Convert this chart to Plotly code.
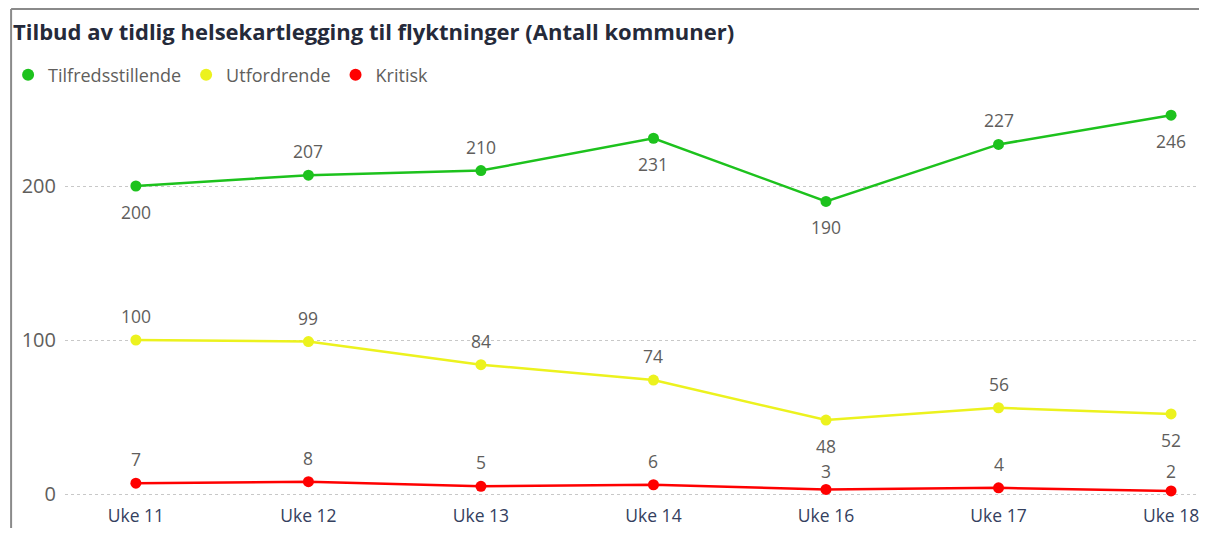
import plotly.graph_objects as go

categories = ["Uke 11", "Uke 12", "Uke 13", "Uke 14", "Uke 16", "Uke 17", "Uke 18"]
tilfreds = [200, 207, 210, 231, 190, 227, 246]
utford = [100, 99, 84, 74, 48, 56, 52]
kritisk = [7, 8, 5, 6, 3, 4, 2]

# label offset for each point, in px (+ above, - below)
off_tilfreds = [-26, 24, 24, -26, -26, 24, -26]
off_utford = [24, 24, 24, 24, -26, 24, -26]
off_kritisk = [24, 24, 24, 24, 18, 24, 20]

FONT = "Open Sans, Liberation Sans, sans-serif"
xi = list(range(len(categories)))
label_font = dict(family=FONT, size=17.5, color="#605E5C")

fig = go.Figure()
for name, vals, col, offs in [
    ("Tilfredsstillende", tilfreds, "#1DC21D", off_tilfreds),
    ("Utfordrende", utford, "#ECF21E", off_utford),
    ("Kritisk", kritisk, "#FF0000", off_kritisk),
]:
    fig.add_trace(go.Scatter(
        x=xi, y=vals, name=name, mode="lines+markers",
        line=dict(color=col, width=2.5),
        marker=dict(color=col, size=11),
        cliponaxis=False, showlegend=False,
    ))
    fig.add_trace(go.Scatter(
        x=[None], y=[None], name=name, mode="markers",
        marker=dict(color=col, size=12), showlegend=True,
    ))
    for i, (v, o) in enumerate(zip(vals, offs)):
        fig.add_annotation(x=xi[i], y=v, text=str(v), showarrow=False,
                           yshift=o, font=label_font, borderpad=0)

# page body has an 8px margin; figure coordinates = screen - 8
W, H = 1199, 520
ml, mr, mt, mb = 55, 0, 92, 28
pw = W - ml - mr
plot_h = H - mt - mb

fig.update_layout(
    width=W, height=H,
    margin=dict(l=ml, r=mr, t=mt, b=mb),
    paper_bgcolor="white", plot_bgcolor="white",
    font=dict(family=FONT, color="#605E5C"),
    title=dict(text="<b>Tilbud av tidlig helsekartlegging til flyktninger (Antall kommuner)</b>",
               x=5 / W, xanchor="left", y=1 - 24 / H, yanchor="middle",
               font=dict(size=22, color="#252A3A", family=FONT)),
    legend=dict(orientation="h", x=(-2 - ml) / pw, xanchor="left",
                y=(H - mb - 67) / plot_h, yanchor="middle",
                font=dict(size=18, color="#605E5C"), itemwidth=30,
                traceorder="normal", bgcolor="rgba(0,0,0,0)"),
    showlegend=True,
)

ppu = (1163 - 126) / 6
x0 = -(126 - ml) / ppu
x1 = x0 + pw / ppu
fig.update_xaxes(range=[x0, x1], tickmode="array", tickvals=xi, ticktext=categories,
                 showgrid=False, zeroline=False, showline=False, automargin=False,
                 tickfont=dict(size=17.5, color="#34405E"), ticks="", ticklabelstandoff=3)

ppv = 1.54
y0 = -((H - mb) - 486) / ppv
y1 = y0 + plot_h / ppv
fig.update_yaxes(range=[y0, y1], tickvals=[0, 100, 200], showgrid=True, automargin=False,
                 gridcolor="#C8C8C8", griddash="dot", gridwidth=1, zeroline=False, showline=False,
                 tickfont=dict(size=20, color="#605E5C"), ticks="", ticklabelstandoff=8)

# frame border (top and left)
fig.add_shape(type="line", xref="paper", yref="paper",
              x0=(1 - ml) / pw, x1=(W - ml) / pw, y0=(H - mb - 1) / plot_h, y1=(H - mb - 1) / plot_h,
              line=dict(color="#8A8A8A", width=2))
fig.add_shape(type="line", xref="paper", yref="paper",
              x0=(1 - ml) / pw, x1=(1 - ml) / pw, y0=(H - mb - 1) / plot_h, y1=(H - mb - H) / plot_h,
              line=dict(color="#8A8A8A", width=2))

fig.write_html("out.html")
